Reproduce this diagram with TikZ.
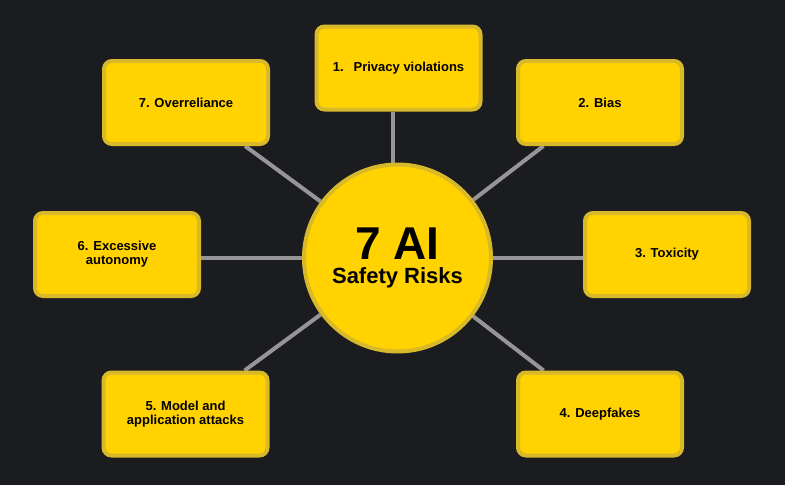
\documentclass[tikz,border=0pt]{standalone}
\usepackage{fontspec}
\setmainfont{Liberation Sans}
\usetikzlibrary{backgrounds}
\definecolor{bgdark}{HTML}{1B1C20}
\definecolor{riskfill}{HTML}{FFD200}
\definecolor{riskedge}{HTML}{D8B92A}
\definecolor{linkgray}{HTML}{969696}
\begin{document}
\begin{tikzpicture}[x=1pt,y=-1pt,
    risk/.style={draw=riskedge, fill=riskfill, line width=4pt, rounded corners=8pt,
        minimum width=164pt, minimum height=83pt, align=center,
        font=\bfseries\fontsize{13}{14}\selectfont},
    hub/.style={draw=riskedge, fill=riskfill, line width=4pt, circle,
        minimum size=187pt, inner sep=0pt, align=center,
        font=\bfseries\fontsize{22}{24}\selectfont},
    link/.style={draw=linkgray, line width=4pt}]
        \node[hub] (c) at (397.5,258) {{\fontsize{46}{46}\selectfont 7 AI}\\Safety Risks};

        \node[risk] (1) at (398.5,68) {1.\hspace{10pt}Privacy violations};
        \node[risk] (2) at (600,102.5) {2. Bias};
        \node[risk] (3) at (667,254.5) {3. Toxicity};
        \node[risk] (4) at (600,414) {4. Deepfakes};
        \node[risk] (5) at (185.5,414) {5. Model and\\application attacks};
        \node[risk] (6) at (117,254.5) {6. Excessive\\autonomy};
        \node[risk] (7) at (186,102.5) {7. Overreliance};

        \begin{pgfonlayer}{background}
        \fill[bgdark] (0,0) rectangle (785,485);
        \path[link] ([xshift=-5pt]c.center) -- ([xshift=-5pt]c.center |- 1.south);
        \path[link] (c) -- (2);
        \path[link] (c.center) -- (c.center -| 3.west);
        \path[link] (c) -- (4);
        \path[link] (c) -- (5);
        \path[link] (c.center) -- (c.center -| 6.east);
        \path[link] (c) -- (7);
        \end{pgfonlayer}
    \end{tikzpicture}
\end{document}
